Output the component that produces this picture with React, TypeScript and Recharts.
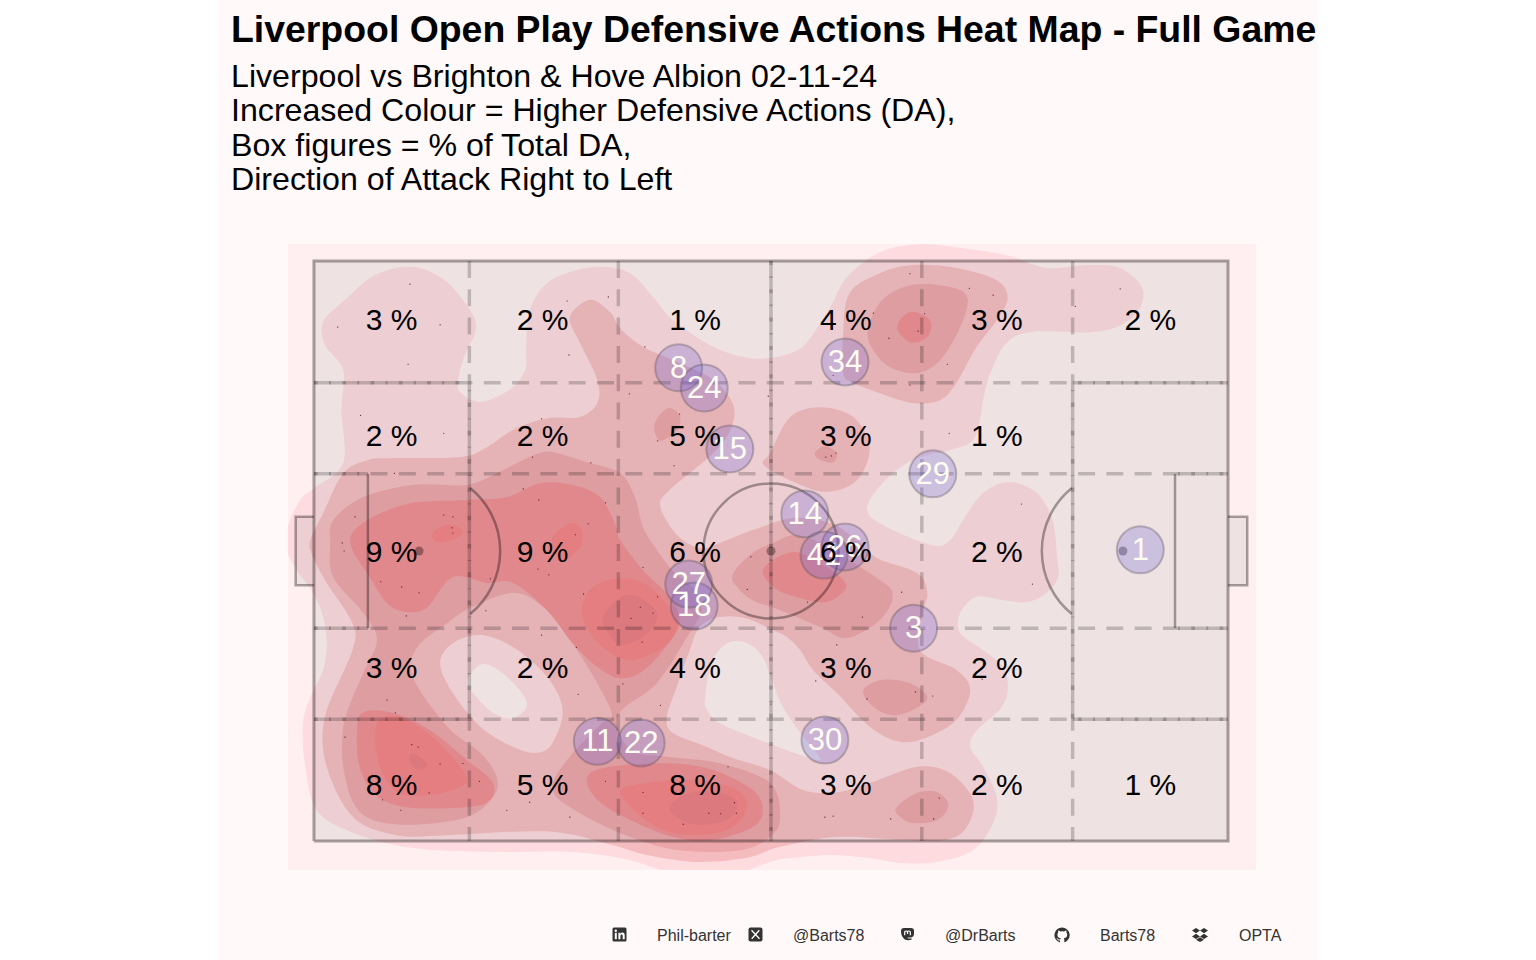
import React from 'react';
import { ScatterChart, Scatter, XAxis, YAxis } from 'recharts';

type Pair = [number, number];

// Pitch units are 0-100 in both directions, as in the Opta feed
const PITCH_BOX: Pair[] = [[0, 0], [100, 0], [100, 100], [0, 100]];
const GOAL_LEFT: Pair[] = [[0, 44.1], [-2, 44.1], [-2, 55.9], [0, 55.9]];
const GOAL_RIGHT: Pair[] = [[100, 44.1], [102.1, 44.1], [102.1, 55.9], [100, 55.9]];
const PITCH_OUTLINE: Pair[] = [[0, 0], [100, 0], [100, 100], [0, 100], [0, 0]];
const PITCH_LINES: Pair[][] = [
  PITCH_OUTLINE,
  GOAL_LEFT,
  GOAL_RIGHT,
  [[5.9, 36.7], [5.9, 63.3]],
  [[94.2, 36.7], [94.2, 63.3]],
];
// box lines and the halfway line come out as a second dashed run over the zone lines
const DASHED_MARKINGS: { path: Pair[]; offset: number }[] = [
  { path: [[50, 100], [50, 0]], offset: 13 },
  { path: [[17, 79], [17, 21]], offset: 21 },
  { path: [[83, 79], [83, 21]], offset: 21 },
  { path: [[0, 79], [17, 79]], offset: 13.3 },
  { path: [[0, 21], [17, 21]], offset: 13.3 },
  { path: [[83, 79], [100, 79]], offset: 8 },
  { path: [[83, 21], [100, 21]], offset: 8 },
  { path: [[0, 63.3], [5.9, 63.3]], offset: 13.3 },
  { path: [[0, 36.7], [5.9, 36.7]], offset: 13.3 },
  { path: [[94.2, 63.3], [100, 63.3]], offset: 25.3 },
  { path: [[94.2, 36.7], [100, 36.7]], offset: 25.3 },
];
const SPOTS: Pair[] = [[11.5, 50], [50, 50], [88.5, 50]];
const CENTRE: Pair[] = [[50, 50]];
const ARC_LEFT: Pair[] = [[11.5, 50]];
const ARC_RIGHT: Pair[] = [[88.5, 50]];

// Zone lines
const ZONE_X = [17, 33.3, 50, 66.5, 83];
const ZONE_Y = [21, 36.7, 63.3, 79];

// Share of defensive actions per zone
const ZONE_LABEL_X = [8.5, 25, 41.7, 58.2, 74.7, 91.5];
const ZONE_LABEL_Y = [89.8, 69.8, 49.8, 29.8, 9.7];
const ZONE_SHARES: (number | null)[][] = [
  [3, 2, 1, 4, 3, 2],
  [2, 2, 5, 3, 1, null],
  [9, 9, 6, 6, 2, null],
  [3, 2, 4, 3, 2, null],
  [8, 5, 8, 3, 2, 1],
];

// Average positions
const SHIRTS = [1, 3, 8, 11, 14, 15, 18, 22, 24, 26, 27, 29, 30, 34, 41];
const SHIRT_X = [90.4, 65.6, 39.9, 31, 53.7, 45.5, 41.6, 35.8, 42.7, 58.1, 41, 67.7, 55.9, 58.1, 55.8];
const SHIRT_Y = [50.2, 36.7, 81.6, 17.2, 56.4, 67.6, 40.5, 16.9, 78.1, 50.7, 44.3, 63.3, 17.4, 82.6, 49.3];

// Individual defensive actions
const ACTIONS: Pair[] = [
  [10.5, 96], [2.6, 88.6], [13.8, 89], [10.3, 82.2], [27.7, 93.1], [32.2, 93.8], [27.9, 83.8], [36.2, 85.2],
  [34.5, 77.1], [40, 73.6], [37.6, 69], [39.4, 64.7], [49.7, 76.7], [5.1, 73.4], [14.2, 70.3], [24.9, 72.8],
  [23.9, 66.2], [30.3, 65.2], [8.8, 63.4], [22.9, 60.7], [24.6, 58.8], [31.9, 58.3], [14.2, 56.2], [15.2, 55.9],
  [15.1, 54], [15.2, 53.1], [4.5, 55.9], [3.1, 51.4], [3.3, 50], [30, 54.7], [28.6, 52.8], [65.2, 97.8],
  [71.7, 95.3], [74.3, 94.1], [61.2, 91], [66.8, 90.9], [66.1, 87.9], [62.9, 86.7], [69.3, 82.2], [65.2, 78.6],
  [56.8, 80.3], [88.2, 95.2], [83.3, 92.2], [69.5, 70.3], [57.1, 66.9], [56.6, 66.4], [56, 66.2], [77.4, 58.1],
  [7.3, 44.7], [9.6, 43.8], [11.5, 42.8], [10.1, 38.8], [18.8, 39.7], [24.5, 46.9], [25.7, 45.9], [19.3, 45.2],
  [29.5, 42.6], [36, 47.2], [37.6, 42.1], [35.7, 40.3], [37.1, 39.3], [34.7, 38.4], [35.9, 34.3], [24.9, 35.5],
  [28.7, 33.4], [33.8, 27.1], [28.9, 25.3], [37.9, 23.4], [50, 23.6], [8, 24.3], [8.9, 22.1], [3.4, 17.9],
  [10.7, 16.6], [11.4, 16.2], [13.8, 13.3], [16.3, 13.4], [18.1, 10.3], [12.6, 8.3], [7.5, 7.1], [9.5, 5.3],
  [21.1, 5.3], [23.6, 6.7], [28, 4.1], [31.9, 10.3], [36, 8.4], [36, 4.8], [40.4, 2.9], [43.2, 4.8],
  [44.5, 4.7], [46, 6.6], [46.2, 4.8], [45.3, 12.8], [64.3, 42.9], [60, 38.6], [54, 41.2], [57.2, 33.8],
  [54.9, 27.6], [65.8, 25.7], [67.7, 25], [60.5, 24.5], [73.1, 27.9], [78.6, 44.3], [68.4, 7.4], [67.8, 3.8],
  [63.1, 3.8], [56.8, 4.3], [55.9, 4.1], [47.4, 43.4], [47.8, 49],
];

// Density contours, lowest band first
const BAND_1: Pair[] = [
  [-3, 53.6], [-1.5, 58.8], [0.1, 60.9], [3.2, 65.2], [3, 74.3], [3.2, 81.2], [1.2, 85.5], [1, 89.5], [3.4, 93.3],
  [6.7, 97.6], [10.7, 99], [14.3, 96.7], [17.1, 91.5], [17.7, 88.1], [16.5, 83.8], [15.8, 79.8], [16, 77.4], [18.2, 75.7],
  [21.4, 77.8], [23.1, 81.2], [23.2, 85.5], [23.6, 91.5], [25.3, 95.9], [28, 98.1], [31.3, 99], [34.6, 97.9], [37.1, 93.8],
  [39.3, 89.8], [43.7, 85.2], [47.4, 83.3], [49.9, 83.3], [52.1, 84.1], [53.9, 85.9], [56.5, 92.1], [58.3, 97.2], [61.9, 101.5],
  [66.3, 102.9], [71, 102.2], [75.8, 101], [80.2, 98.8], [84.6, 99.3], [88.2, 98.8], [90.7, 95], [89.6, 90.3], [85.7, 87.8],
  [78.7, 87.8], [75.8, 85.9], [74, 80.7], [73.2, 76], [72.9, 73.1], [72.1, 69.1], [69.6, 67.4], [65.5, 65.7], [62.2, 61.7],
  [60.5, 57.1], [62.7, 54.1], [67.7, 51], [69.6, 51.9], [71, 55.3], [73.2, 60], [76.1, 61.9], [79.1, 60], [80.8, 55.3],
  [81.3, 49], [81.4, 45.5], [80.2, 42.8], [78, 41.2], [75.4, 41.5], [72.5, 42.1], [70.7, 39.3], [70.7, 35.9], [73.2, 32.9],
  [75.4, 30], [75.9, 26], [75, 22.6], [72.5, 19.1], [71.8, 16.2], [73.2, 12.8], [74.7, 7.6], [74.3, 3.1], [72.1, -1.6],
  [68.2, -3.6], [64.4, -3.8], [60.1, -2.8], [56.5, -2.4], [52.4, -2.9], [49.9, -3.6], [45.5, -5.9], [40, -5.9], [34.6, -3.3],
  [28.3, -1.9], [20, -1.9], [10.8, -1.2], [4.3, 1.4], [0.3, 5.3], [-1, 13.4], [-1.2, 20.3], [-0.4, 24.8], [1, 29.5],
  [1.4, 34.1], [1, 38.6], [-0.1, 42.8], [-1.9, 46.7], [-3, 50.2],
];
const BAND_2: Pair[] = [
  [-0.4, 51.9], [1, 56.5], [3.2, 63.4], [5.9, 65.7], [8.6, 66], [16, 66.2], [18.9, 67.9], [21.8, 70.9], [25.5, 72.9],
  [29.1, 73.1], [31, 75.5], [31, 79.5], [29.1, 85.9], [28, 90.3], [30.2, 93.3], [32.4, 91.2], [33.5, 88.4], [36, 85.2],
  [40, 82.4], [43.7, 79.5], [45.8, 75.5], [45.7, 71.4], [43.7, 66.9], [38.9, 60.5], [37.9, 57.6], [39.7, 52.8], [42.2, 50.5],
  [44.4, 51.4], [48, 53.6], [52.4, 55.7], [56.5, 54.8], [59, 52.4], [61.6, 48.8], [66, 46.2], [67.1, 42.8], [66.6, 39.3],
  [66.3, 32.9], [70.3, 29.5], [71.8, 26], [70.3, 20.9], [67.1, 17.9], [64.1, 17.1], [60.8, 19.7], [57.2, 25.5], [54.6, 29.5],
  [53.2, 32.9], [51.7, 35.2], [50.2, 36.4], [47.2, 38.4], [44.4, 38.6], [42.2, 36.9], [41.1, 32.9], [39.7, 26.6], [38.6, 21.4],
  [39.3, 18.6], [43, 16.2], [45.5, 14.5], [49.9, 12.2], [53.5, 8.8], [57.2, 8.4], [60.8, 10], [66, 12.8], [69.6, 11.7],
  [72.1, 7.1], [71.4, 2.4], [69.2, 0.2], [64.4, 0.2], [57.2, 0.7], [51, -1], [47.4, -2.9], [41.9, -3.6], [36.4, -2.4],
  [32.7, -0.7], [27.2, 1.4], [21.8, 1.6], [14.6, 1], [9.1, 1], [4.3, 4.1], [1.4, 12.8], [1.2, 21.4], [4.2, 32.9],
  [4.2, 37.6], [1.4, 44.5], [-0.2, 49.3],
];
const BAND_2_TOP: Pair[] = [
  [57.9, 87.6], [58.6, 94.5], [61.9, 97.9], [65.5, 99.3], [70.3, 98.8], [74.7, 96.7], [75.9, 93.6], [74.7, 89.8],
  [72.5, 85.2], [70.3, 79], [68.5, 76], [65.5, 75.5], [61.9, 77.2], [59, 79], [57.9, 80.7],
];
const BAND_2_MID: Pair[] = [
  [49.1, 65.3], [49.9, 66.9], [52.1, 73.1], [55.4, 74.8], [59, 73.1], [60.8, 67.9], [59.4, 62.2], [56.1, 60.2], [52.8, 61.7], [49.9, 64],
];
const BAND_1_GAP: Pair[] = [
  [13.8, 30.7], [15.2, 34.1], [18.2, 35.5], [21.8, 33.4], [25.5, 28.3], [27.2, 22.6], [26.1, 16.9], [24.4, 15.2],
  [21.8, 16.2], [18.2, 19.7], [15.2, 25.5],
];
const EMPTY_LEFT: Pair[] = [[18.5, 30.5], [21.1, 28.3], [23.3, 23.8], [21.8, 21.2], [19.6, 22.1], [17.4, 25.5], [16.8, 27.8]];
const EMPTY_MID: Pair[] = [
  [42.8, 24.8], [43.5, 30.7], [45.2, 34.1], [47.4, 34.1], [49.1, 31.7], [50.2, 27.2], [51.3, 23.1], [53.2, 18.6],
  [55.4, 14], [51.7, 15.7], [48, 17.9], [44.4, 20.3], [43, 22.6],
];
const BAND_3: Pair[] = [
  [1.8, 51.4], [2.1, 55.3], [5.4, 59.3], [10.8, 61.4], [16.7, 61.4], [20, 63.4], [23.6, 66.2], [25.8, 67.1], [29.9, 65.3],
  [33.5, 63.4], [35.1, 59.3], [36, 54.1], [37.5, 50.2], [39.2, 46.7], [41.7, 43.3], [42.4, 39.8], [41.1, 35.9], [37.5, 27.2],
  [33.3, 21.7], [34.6, 15.7], [38.9, 14.5], [44.4, 13.4], [49.9, 10], [51, 4.1], [49.9, 0.7], [46.6, -1.6], [40, -1.6],
  [34.6, 0.7], [29.1, 4.8], [26.1, 8.8], [27.7, 14], [31.3, 20], [32.6, 21.7], [31, 27.2], [28, 34.7], [25.1, 40.3],
  [21.8, 42.8], [17.1, 40.2], [14.6, 37.6], [11.3, 33.4], [10.8, 28.3], [14.6, 19.7], [18.2, 15.2], [20, 11], [19.6, 7.6],
  [16.7, 4.1], [10.8, 2.8], [6.5, 3.6], [4.3, 6.6], [3.2, 12.8], [3.1, 17.9], [3.6, 22.1], [5.4, 29], [6.9, 34.7],
  [5.4, 39.3], [2.1, 45.5],
];
const BAND_3_CENTRE: Pair[] = [
  [45.8, 45.9], [47.7, 49.3], [50.2, 51.4], [53.9, 52.4], [61.9, 45], [63.3, 42.1], [61.9, 38.1], [58.3, 35], [55.4, 36.9],
  [51, 39.8], [48, 41.5], [46.3, 43.8],
];
const BAND_3_TOP: Pair[] = [
  [60.6, 88.1], [62.2, 93.3], [65.5, 95.9], [69.6, 95.5], [71.5, 93.6], [70.7, 88.6], [68.5, 82.9], [66, 80.7], [63, 81.7], [61.2, 84.6],
];
const BAND_3_A: Pair[] = [[37.3, 72.1], [38.7, 74.6], [40, 73.4], [39.8, 70.9], [38.2, 69.1], [37.5, 69.6]];
const BAND_3_B: Pair[] = [[54.8, 66.9], [55.9, 68.1], [57.2, 66.9], [56.8, 65.3], [55.4, 65.7]];
const BAND_3_C: Pair[] = [[60.1, 26], [62.2, 27.8], [65.2, 27.2], [67.1, 24.8], [65.5, 22.6], [63.3, 21.7], [61.2, 23.1]];
const BAND_3_D: Pair[] = [[63.8, 5.9], [66, 8.3], [68.2, 8.4], [69.4, 6.2], [68.2, 3.6], [65.5, 3.1], [63.9, 4.5]];
const BAND_4: Pair[] = [
  [4.2, 53.1], [6.5, 55.9], [10.8, 58.3], [16.7, 58.8], [21.1, 59.3], [24.7, 61.7], [28.3, 61.4], [31.3, 59.3], [33.1, 54.1],
  [33.5, 51.9], [36, 46.7], [38.9, 42.1], [40, 37.6], [38.2, 32.9], [35.7, 29], [33.3, 28.1], [31, 30], [28.3, 34.1],
  [25.5, 39.8], [21.8, 44.5], [18.9, 44.5], [15.2, 45.5], [12.4, 40.3], [10.2, 39.5], [8, 41], [5.8, 46.2], [4.2, 50.2],
];
const BAND_4_LOW: Pair[] = [
  [4.7, 17.9], [5.3, 22.1], [8.6, 22.1], [12.7, 19.1], [16.7, 14], [19.6, 10], [18.9, 6.6], [15.2, 5.7], [9.7, 5.9], [6.5, 8.3], [5, 12.8],
];
const BAND_4_BOTTOM: Pair[] = [
  [29.9, 11], [32.4, 12.8], [38.9, 13.4], [43.7, 12.2], [48, 8.8], [49.1, 5.3], [48, 2.4], [43.7, 0.2], [39.3, 0.7], [34.6, 3.6], [31, 7.1],
];
const BAND_4_CENTRE: Pair[] = [[49.1, 46.2], [50.2, 48.4], [52.8, 49.8], [56.1, 47.2], [57.9, 45], [58.1, 43.3], [56.1, 41.2], [53.2, 41.9], [50.7, 43.3]];
const BAND_4_TOP: Pair[] = [[63.8, 88.6], [65.2, 91.2], [67.4, 89.8], [67.1, 86.9], [65.2, 86]];
const BAND_5: Pair[] = [[29.3, 39.8], [30.5, 43.8], [33.8, 45.3], [36.8, 43.8], [39.3, 39.3], [39.8, 36.9], [38.2, 33.4], [34.9, 31.2], [32.4, 32.4], [30.2, 35.9]];
const BAND_5_A: Pair[] = [[13, 53.1], [14.6, 54.5], [16.2, 53.6], [15.6, 52.2], [13.5, 51.5]];
const BAND_5_B: Pair[] = [[26, 51.9], [28, 54.8], [29.3, 53.6], [29.1, 50.7], [27.2, 48.4]];
const BAND_5_LOW: Pair[] = [[6.7, 17.9], [7.2, 20.9], [9.4, 21.4], [13, 17.9], [16.5, 11.7], [16, 9.3], [12.4, 7.9], [9.1, 8.4], [7.2, 12.8]];
const BAND_5_BOTTOM: Pair[] = [[33.5, 8.3], [36.4, 10], [41.9, 10.5], [46.3, 8.8], [47.4, 5.9], [45.8, 2.4], [42.2, 1], [37.5, 2.4]];
const BAND_6: Pair[] = [[31.6, 38.4], [33.2, 41.6], [34.9, 42.4], [37.1, 40.3], [37.5, 38.1], [36, 35.2], [33.5, 33.8], [32.2, 35.9]];
const BAND_6_BOTTOM: Pair[] = [[38.9, 5.9], [41.1, 8.3], [44.4, 8.3], [46.3, 6.6], [45.2, 3.6], [41.9, 2.8], [39.7, 4.1]];
const BAND_6_LOW: Pair[] = [[10.4, 14.5], [11, 15], [12.3, 13.4], [12.1, 12.4], [11, 12.6]];

const PANEL = '#ffeff0';
const BANDS = ['#fddbdf', '#f5bcc0', '#eca5a9', '#f08f93', '#f58486', '#ea7e85'];

// painted in this order, a later ring covers an earlier one
const HEAT: { ring: Pair[]; fill: string }[] = [
  { ring: BAND_1, fill: BANDS[0] },
  { ring: BAND_2, fill: BANDS[1] },
  { ring: BAND_2_TOP, fill: BANDS[1] },
  { ring: BAND_2_MID, fill: BANDS[1] },
  { ring: BAND_1_GAP, fill: BANDS[0] },
  { ring: EMPTY_LEFT, fill: PANEL },
  { ring: EMPTY_MID, fill: PANEL },
  { ring: BAND_3, fill: BANDS[2] },
  { ring: BAND_3_CENTRE, fill: BANDS[2] },
  { ring: BAND_3_TOP, fill: BANDS[2] },
  { ring: BAND_3_A, fill: BANDS[2] },
  { ring: BAND_3_B, fill: BANDS[2] },
  { ring: BAND_3_C, fill: BANDS[2] },
  { ring: BAND_3_D, fill: BANDS[2] },
  { ring: BAND_4, fill: BANDS[3] },
  { ring: BAND_4_LOW, fill: BANDS[3] },
  { ring: BAND_4_BOTTOM, fill: BANDS[3] },
  { ring: BAND_4_CENTRE, fill: BANDS[3] },
  { ring: BAND_4_TOP, fill: BANDS[3] },
  { ring: BAND_5, fill: BANDS[4] },
  { ring: BAND_5_A, fill: BANDS[4] },
  { ring: BAND_5_B, fill: BANDS[4] },
  { ring: BAND_5_LOW, fill: BANDS[4] },
  { ring: BAND_5_BOTTOM, fill: BANDS[4] },
  { ring: BAND_6, fill: BANDS[5] },
  { ring: BAND_6_BOTTOM, fill: BANDS[5] },
  { ring: BAND_6_LOW, fill: BANDS[5] },
];

const TITLE = 'Liverpool Open Play Defensive Actions Heat Map - Full Game';
const SUBTITLE = [
  'Liverpool vs Brighton & Hove Albion 02-11-24',
  'Increased Colour = Higher Defensive Actions (DA),',
  'Box figures = % of Total DA,',
  'Direction of Attack Right to Left',
];
const FOOTER = [
  { icon: 'linkedin', iconX: 612, label: 'Phil-barter', labelX: 657 },
  { icon: 'x', iconX: 748, label: '@Barts78', labelX: 793 },
  { icon: 'mastodon', iconX: 900, label: '@DrBarts', labelX: 945 },
  { icon: 'github', iconX: 1054, label: 'Barts78', labelX: 1100 },
  { icon: 'dropbox', iconX: 1192, label: 'OPTA', labelX: 1239 },
];

const FONT = '"Liberation Sans", Arial, sans-serif';
const LINE = 'rgba(10,0,0,0.35)';
const ZONE = 'rgba(0,0,0,0.2)';
const DASH = '17 11.3';

const toPoints = (pairs: Pair[]) => pairs.map(([x, y]) => ({ x, y }));

// closed smooth outline through every traced point
const smoothRing = (ctx: any) => {
  let pts: number[][] = [];
  return {
    areaStart() {},
    areaEnd() {},
    lineStart() {
      pts = [];
    },
    point(x: number, y: number) {
      pts.push([x, y]);
    },
    lineEnd() {
      const n = pts.length;
      ctx.moveTo(pts[0][0], pts[0][1]);
      for (let i = 0; i < n; i++) {
        const a = pts[(i + n - 1) % n];
        const b = pts[i];
        const c = pts[(i + 1) % n];
        const d = pts[(i + 2) % n];
        ctx.bezierCurveTo(b[0] + (c[0] - a[0]) / 6, b[1] + (c[1] - a[1]) / 6, c[0] - (d[0] - b[0]) / 6, c[1] - (d[1] - b[1]) / 6, c[0], c[1]);
      }
      ctx.closePath();
    },
  };
};

const NoMark = () => <g />;

const Icon = ({ name }: { name: string }) => {
  const dark = '#333';
  if (name === 'linkedin') {
    return (
      <svg width={15} height={15} viewBox="0 0 15 15">
        <rect x={0.5} y={0.5} width={14} height={14} rx={1.5} fill={dark} />
        <rect x={2.8} y={5.8} width={2} height={6.4} fill="#fff" />
        <circle cx={3.8} cy={3.8} r={1.2} fill="#fff" />
        <path d="M6.4 5.8h1.9v.9c.5-.7 1.2-1.1 2.1-1.1 1.7 0 2.3 1.1 2.3 2.8v3.8h-2V8.9c0-.9-.3-1.5-1.1-1.5-.9 0-1.2.7-1.2 1.5v3.3h-2z" fill="#fff" />
      </svg>
    );
  }
  if (name === 'x') {
    return (
      <svg width={15} height={15} viewBox="0 0 15 15">
        <rect x={0.5} y={0.5} width={14} height={14} rx={2} fill={dark} />
        <path d="M3.5 3.3 11.5 11.7M11.3 3.3 3.7 11.7" stroke="#fff" strokeWidth={1.3} />
      </svg>
    );
  }
  if (name === 'mastodon') {
    return (
      <svg width={15} height={15} viewBox="0 0 15 15">
        <path d="M4 1h7c2 0 3 1 3 3v3c0 2-1 3-3 3.400-1.200.2-2.500.2-3.700.1.300 1 1.800 1.300 4.200.8v1.400c-3 .9-6.800.7-8.100-1.700C2 9.500 1 7.500 1 4c0-2 1-3 3-3z" fill={dark} />
        <path d="M4.700 8.300V5.200c0-1.600 2.800-1.600 2.800 0v1.800-1.800c0-1.600 2.800-1.600 2.800 0v3.100" fill="none" stroke="#fff" strokeWidth={1.2} />
      </svg>
    );
  }
  if (name === 'github') {
    return (
      <svg width={16} height={16} viewBox="0 0 16 16">
        <path d="M8 .5A7.600 7.600 0 0 0 5.600 15.300c.4.100.5-.2.500-.4v-1.400c-2.100.5-2.500-1-2.500-1-.3-.9-.8-1.100-.8-1.100-.7-.5.100-.5.100-.5.800.100 1.200.8 1.200.8.700 1.200 1.800.8 2.200.6.100-.5.300-.8.500-1-1.700-.2-3.400-.8-3.400-3.700 0-.8.300-1.500.8-2-.1-.2-.3-1 .1-2 0 0 .6-.2 2.100.8a7.200 7.200 0 0 1 3.800 0c1.500-1 2.100-.8 2.100-.8.400 1 .2 1.800.1 2 .5.500.8 1.200.8 2 0 2.900-1.800 3.500-3.400 3.700.3.200.5.700.5 1.400v2.100c0 .2.100.5.500.4A7.600 7.600 0 0 0 8 .5z" fill={dark} />
      </svg>
    );
  }
  return (
    <svg width={16} height={15} viewBox="0 0 16 15">
      <path d="M4 1 8 3.600 4 6.200 0 3.600zM12 1l4 2.600-4 2.600-4-2.600zM4 6.800l4 2.600-4 2.600-4-2.600zM12 6.800l4 2.600-4 2.600-4-2.600zM4 12.700 8 10.200l4 2.500-4 2.300z" fill={dark} />
    </svg>
  );
};

export default function App() {
  const zoneLabels = ZONE_SHARES.flatMap((row, r) =>
    row.flatMap((share, c) => (share === null ? [] : [{ x: ZONE_LABEL_X[c], y: ZONE_LABEL_Y[r], share }])),
  );
  const players = SHIRTS.map((shirt, i) => ({ x: SHIRT_X[i], y: SHIRT_Y[i], shirt }));

  return (
    <div style={{ position: 'absolute', left: 0, top: 0, width: 1536, height: 960, background: '#fff', overflow: 'hidden', fontFamily: FONT }}>
      <div style={{ position: 'absolute', left: 218, top: 0, width: 1100, height: 960, background: '#fff9f9' }} />
      <div style={{ position: 'absolute', left: 231, top: 8, fontSize: 37.4, fontWeight: 700, lineHeight: '42px', whiteSpace: 'nowrap', color: '#000' }}>{TITLE}</div>
      <div style={{ position: 'absolute', left: 231, top: 58.5, fontSize: 32.15, lineHeight: '34.6px', whiteSpace: 'nowrap', color: '#000' }}>
        {SUBTITLE.map((line) => (
          <div key={line}>{line}</div>
        ))}
      </div>

      <div style={{ position: 'absolute', left: 0, top: 0 }}>
        <ScatterChart width={1536} height={960} margin={{ top: 244, left: 288, right: 280, bottom: 90 }}>
          <XAxis type="number" dataKey="x" hide domain={[-2.84, 103.06]} allowDataOverflow />
          <YAxis type="number" dataKey="y" hide domain={[-5, 102.93]} allowDataOverflow />

          <Scatter
            data={toPoints([[-2.84, -5], [103.06, -5], [103.06, 102.93], [-2.84, 102.93]])}
            line={{ fill: PANEL, stroke: 'none' }}
            lineJointType="linearClosed"
            shape={NoMark}
            isAnimationActive={false}
          />
          {HEAT.map(({ ring, fill }, i) => (
            <Scatter
              key={`heat-${i}`}
              data={toPoints(ring)}
              line={{ fill, stroke: 'none' }}
              lineJointType={smoothRing as any}
              shape={NoMark}
              isAnimationActive={false}
            />
          ))}

          {[PITCH_BOX, GOAL_LEFT, GOAL_RIGHT].map((box, i) => (
            <Scatter
              key={`tint-${i}`}
              data={toPoints(box)}
              line={{ fill: 'rgba(30,50,60,0.07)', stroke: 'none' }}
              lineJointType="linearClosed"
              shape={NoMark}
              isAnimationActive={false}
            />
          ))}

          {PITCH_LINES.map((path, i) => (
            <Scatter
              key={`line-${i}`}
              data={toPoints(path)}
              line={{ fill: 'none', stroke: LINE, strokeWidth: i === 0 ? 3 : 2.5 }}
              shape={NoMark}
              isAnimationActive={false}
            />
          ))}
          <Scatter
            data={toPoints(CENTRE)}
            shape={(p: any) => <circle cx={p.cx} cy={p.cy} r={67.5} fill="none" stroke={LINE} strokeWidth={2.5} />}
            isAnimationActive={false}
          />
          <Scatter
            data={toPoints(ARC_LEFT)}
            shape={(p: any) => <path d={`M ${p.cx + 51} ${p.cy - 63} A 81 81 0 0 1 ${p.cx + 51} ${p.cy + 63}`} fill="none" stroke={LINE} strokeWidth={2.5} />}
            isAnimationActive={false}
          />
          <Scatter
            data={toPoints(ARC_RIGHT)}
            shape={(p: any) => <path d={`M ${p.cx - 51} ${p.cy - 63} A 81 81 0 0 0 ${p.cx - 51} ${p.cy + 63}`} fill="none" stroke={LINE} strokeWidth={2.5} />}
            isAnimationActive={false}
          />
          <Scatter
            data={toPoints(SPOTS)}
            shape={(p: any) => <circle cx={p.cx} cy={p.cy} r={4.5} fill={LINE} />}
            isAnimationActive={false}
          />

          {ZONE_X.map((x) => (
            <Scatter
              key={`zx-${x}`}
              data={toPoints([[x, 100], [x, 0]])}
              line={{ fill: 'none', stroke: ZONE, strokeWidth: 3.5, strokeDasharray: DASH }}
              shape={NoMark}
              isAnimationActive={false}
            />
          ))}
          {ZONE_Y.map((y) => (
            <Scatter
              key={`zy-${y}`}
              data={toPoints([[0, y], [100, y]])}
              line={{ fill: 'none', stroke: ZONE, strokeWidth: 3.5, strokeDasharray: DASH }}
              shape={NoMark}
              isAnimationActive={false}
            />
          ))}
          {DASHED_MARKINGS.map(({ path, offset }, i) => (
            <Scatter
              key={`mark-${i}`}
              data={toPoints(path)}
              line={{ fill: 'none', stroke: ZONE, strokeWidth: 3.5, strokeDasharray: DASH, strokeDashoffset: offset }}
              shape={NoMark}
              isAnimationActive={false}
            />
          ))}

          <Scatter
            data={toPoints(ACTIONS)}
            shape={(p: any) => <circle cx={p.cx} cy={p.cy} r={0.6} fill="#4a1020" />}
            isAnimationActive={false}
          />

          <Scatter
            data={players}
            shape={(p: any) => <circle cx={p.cx} cy={p.cy} r={23.5} fill="rgba(110,100,215,0.27)" stroke="rgba(90,80,90,0.35)" strokeWidth={2} />}
            isAnimationActive={false}
          />
          <Scatter
            data={players}
            shape={(p: any) => (
              <text x={p.cx} y={p.cy + 10} textAnchor="middle" fontSize={31} fontFamily={FONT} fill="#fffdf3">
                {p.payload.shirt}
              </text>
            )}
            isAnimationActive={false}
          />

          <Scatter
            data={zoneLabels}
            shape={(p: any) => (
              <text x={p.cx} y={p.cy + 10} textAnchor="middle" fontSize={30} fontFamily={FONT} fill="#000">
                {`${p.payload.share} %`}
              </text>
            )}
            isAnimationActive={false}
          />
        </ScatterChart>
      </div>

      {FOOTER.map(({ icon, iconX, label, labelX }) => (
        <React.Fragment key={label}>
          <div style={{ position: 'absolute', left: iconX, top: 927, lineHeight: 0 }}>
            <Icon name={icon} />
          </div>
          <div style={{ position: 'absolute', left: labelX, top: 927, fontSize: 16, lineHeight: '18px', color: '#333', whiteSpace: 'nowrap' }}>{label}</div>
        </React.Fragment>
      ))}
    </div>
  );
}
